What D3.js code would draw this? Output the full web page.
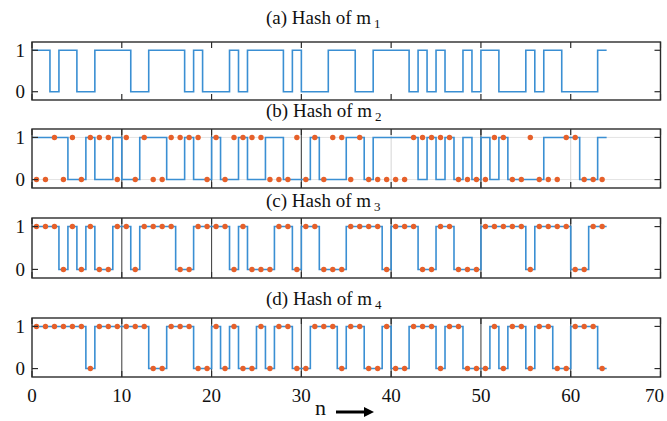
<!DOCTYPE html>
<html>
<head>
<meta charset="utf-8">
<script src="https://cdn.jsdelivr.net/npm/d3@7"></script>
<style>
  html, body { margin: 0; padding: 0; background: #fff; }
  svg { display: block; }
  text { font-family: "Liberation Serif", "Times New Roman", serif; fill: #111; }
</style>
</head>
<body>
<svg id="chart" width="667" height="421"></svg>
<script>
// 64-bit hash sequences, one value per bit index n = 0..63
const hashM1 = [1,1,0,1,1,0,0,1,1,1, 1,0,0,1,1,1,1,0,1,0, 0,0,1,0,1,1,1,1,0,1,
                0,0,0,1,1,1,0,0,1,1, 1,1,0,1,0,1,0,0,1,0, 1,1,0,0,0,1,0,1,1,0,
                0,0,0,1];
const hashM2 = [1,1,1,1,0,0,1,0,0,1, 0,0,1,1,1,0,0,1,0,0, 1,0,0,1,0,0,1,1,0,0,
                0,1,0,0,0,1,1,0,1,1, 1,1,1,0,1,0,1,0,1,0, 1,0,1,0,0,0,0,1,1,1,
                1,0,0,1];
const hashM2Marks = [0,0,1,0,1,0,1,1,1,0, 1,0,1,0,0,1,1,1,1,0, 1,0,1,1,1,1,0,0,0,1,
                0,1,0,1,1,0,1,0,0,0, 0,0,1,1,1,1,1,0,0,0, 0,1,1,0,0,1,0,0,0,1,
                1,0,0,0];
const hashM3 = [1,1,1,0,1,0,1,0,0,1, 1,0,1,1,1,1,0,0,1,1, 1,1,0,1,0,0,0,1,1,0,
                1,1,0,0,0,1,1,1,1,0, 1,1,1,0,0,1,1,0,0,0, 1,1,1,1,1,0,1,1,1,1,
                0,0,1,1];
const hashM4 = [1,1,1,1,1,1,0,1,1,1, 1,1,1,0,0,1,1,1,0,0, 1,0,1,0,0,1,0,1,1,0,
                0,1,1,1,0,1,1,0,0,1, 0,0,1,1,1,0,1,1,0,0, 0,1,0,1,1,0,1,1,0,0,
                1,1,1,0];

const titleText = ["(a) Hash of m", "(b) Hash of m", "(c) Hash of m", "(d) Hash of m"];
const titleSub  = ["1", "2", "3", "4"];
const xTicks = [0, 10, 20, 30, 40, 50, 60, 70];
const yTicks = [0, 1];
const xLabel = "n";

// panel specs: line series, optional marker series, layout
const panels = [
  { line: hashM1, marks: null,        top: 42,  bottom: 100, titleY: 24,  sep: [],                 grid: false },
  { line: hashM2, marks: hashM2Marks, top: 129, bottom: 188, titleY: 117, sep: [10, 20, 30, 50],    grid: true  },
  { line: hashM3, marks: hashM3,      top: 218, bottom: 278, titleY: 207, sep: [10, 20, 30, 40, 50, 60], grid: false },
  { line: hashM4, marks: hashM4,      top: 318, bottom: 377, titleY: 305, sep: [10, 20, 30, 40, 50, 60], grid: false }
];

const W = 667;
const svg = d3.select("#chart");
const left = 32, right = 660.5;
const x = d3.scaleLinear().domain([0, 70]).range([left, right]);
const tickLen = 6;
const axisColor = "#2b2b2b";
const lineColor = "#3a8fd3";
const markColor = "#e6602a";

panels.forEach((p, i) => {
  const y = d3.scaleLinear().domain([-0.2, 1.2]).range([p.bottom, p.top]);
  const g = svg.append("g");

  // light grid
  if (p.grid) {
    g.selectAll("line.gy").data(yTicks).join("line")
      .attr("x1", left).attr("x2", right)
      .attr("y1", d => y(d)).attr("y2", d => y(d))
      .attr("stroke", "#e3e3e3").attr("stroke-width", 1);
    g.selectAll("line.gx").data(xTicks.slice(1, -1)).join("line")
      .attr("x1", d => x(d)).attr("x2", d => x(d))
      .attr("y1", p.top).attr("y2", p.bottom)
      .attr("stroke", "#d6d6d6").attr("stroke-width", 1);
  }
  // dark separators every 10 bits
  g.selectAll("line.sep").data(p.sep).join("line")
    .attr("x1", d => x(d)).attr("x2", d => x(d))
    .attr("y1", p.top).attr("y2", p.bottom)
    .attr("stroke", "#4a4a4a").attr("stroke-width", 1.1);

  // stairs: each bit held from n to n+1
  const pts = p.line.map((v, n) => [n, v]);
  pts.push([p.line.length, p.line[p.line.length - 1]]);
  const stair = d3.line().x(d => x(d[0])).y(d => y(d[1])).curve(d3.curveStepAfter);
  g.append("path").datum(pts)
    .attr("d", stair)
    .attr("fill", "none")
    .attr("stroke", lineColor)
    .attr("stroke-width", 1.6);

  // bit markers at bit centres
  if (p.marks) {
    g.selectAll("circle").data(p.marks.map((v, n) => [n, v])).join("circle")
      .attr("cx", d => x(d[0] + 0.5))
      .attr("cy", d => y(d[1]))
      .attr("r", 2.7)
      .attr("fill", markColor);
  }

  // frame
  g.append("rect")
    .attr("x", left).attr("y", p.top)
    .attr("width", right - left).attr("height", p.bottom - p.top)
    .attr("fill", "none").attr("stroke", axisColor).attr("stroke-width", 1.4);

  // inward ticks on all four sides
  const ticks = g.append("g").attr("stroke", axisColor).attr("stroke-width", 1.2);
  xTicks.forEach(t => {
    ticks.append("line").attr("x1", x(t)).attr("x2", x(t)).attr("y1", p.bottom).attr("y2", p.bottom - tickLen);
    ticks.append("line").attr("x1", x(t)).attr("x2", x(t)).attr("y1", p.top).attr("y2", p.top + tickLen);
  });
  yTicks.forEach(t => {
    ticks.append("line").attr("x1", left).attr("x2", left + tickLen).attr("y1", y(t)).attr("y2", y(t));
    ticks.append("line").attr("x1", right).attr("x2", right - tickLen).attr("y1", y(t)).attr("y2", y(t));
  });

  // y tick labels
  g.selectAll("text.yl").data(yTicks).join("text")
    .attr("x", 25).attr("y", d => y(d)).attr("dy", "0.35em")
    .attr("text-anchor", "end").attr("font-size", 19)
    .text(d => d);

  // panel title with subscript
  const t = g.append("text").attr("x", 266).attr("y", p.titleY).attr("font-size", 19);
  t.append("tspan").text(titleText[i]);
  t.append("tspan").attr("dx", 3).attr("dy", 4).attr("font-size", 13).text(titleSub[i]);

  // x tick labels on the bottom panel only; keep the last one inside the page
  if (i === panels.length - 1) {
    g.selectAll("text.xl").data(xTicks).join("text")
      .attr("x", d => x(d)).attr("y", 402)
      .attr("text-anchor", "middle").attr("font-size", 19)
      .text(d => d)
      .each(function () {
        const b = this.getBBox();
        const over = b.x + b.width - (W - 3);
        if (over > 0) d3.select(this).attr("x", +d3.select(this).attr("x") - over);
      });
  }
});

// axis label with arrow
svg.append("text").attr("x", 315).attr("y", 415).attr("font-size", 22).text(xLabel);
svg.append("line").attr("x1", 336).attr("x2", 366).attr("y1", 412).attr("y2", 412)
  .attr("stroke", "#000").attr("stroke-width", 3);
svg.append("path").attr("d", "M364,407 L374,412 L364,417 Z").attr("fill", "#000");
</script>
</body>
</html>
